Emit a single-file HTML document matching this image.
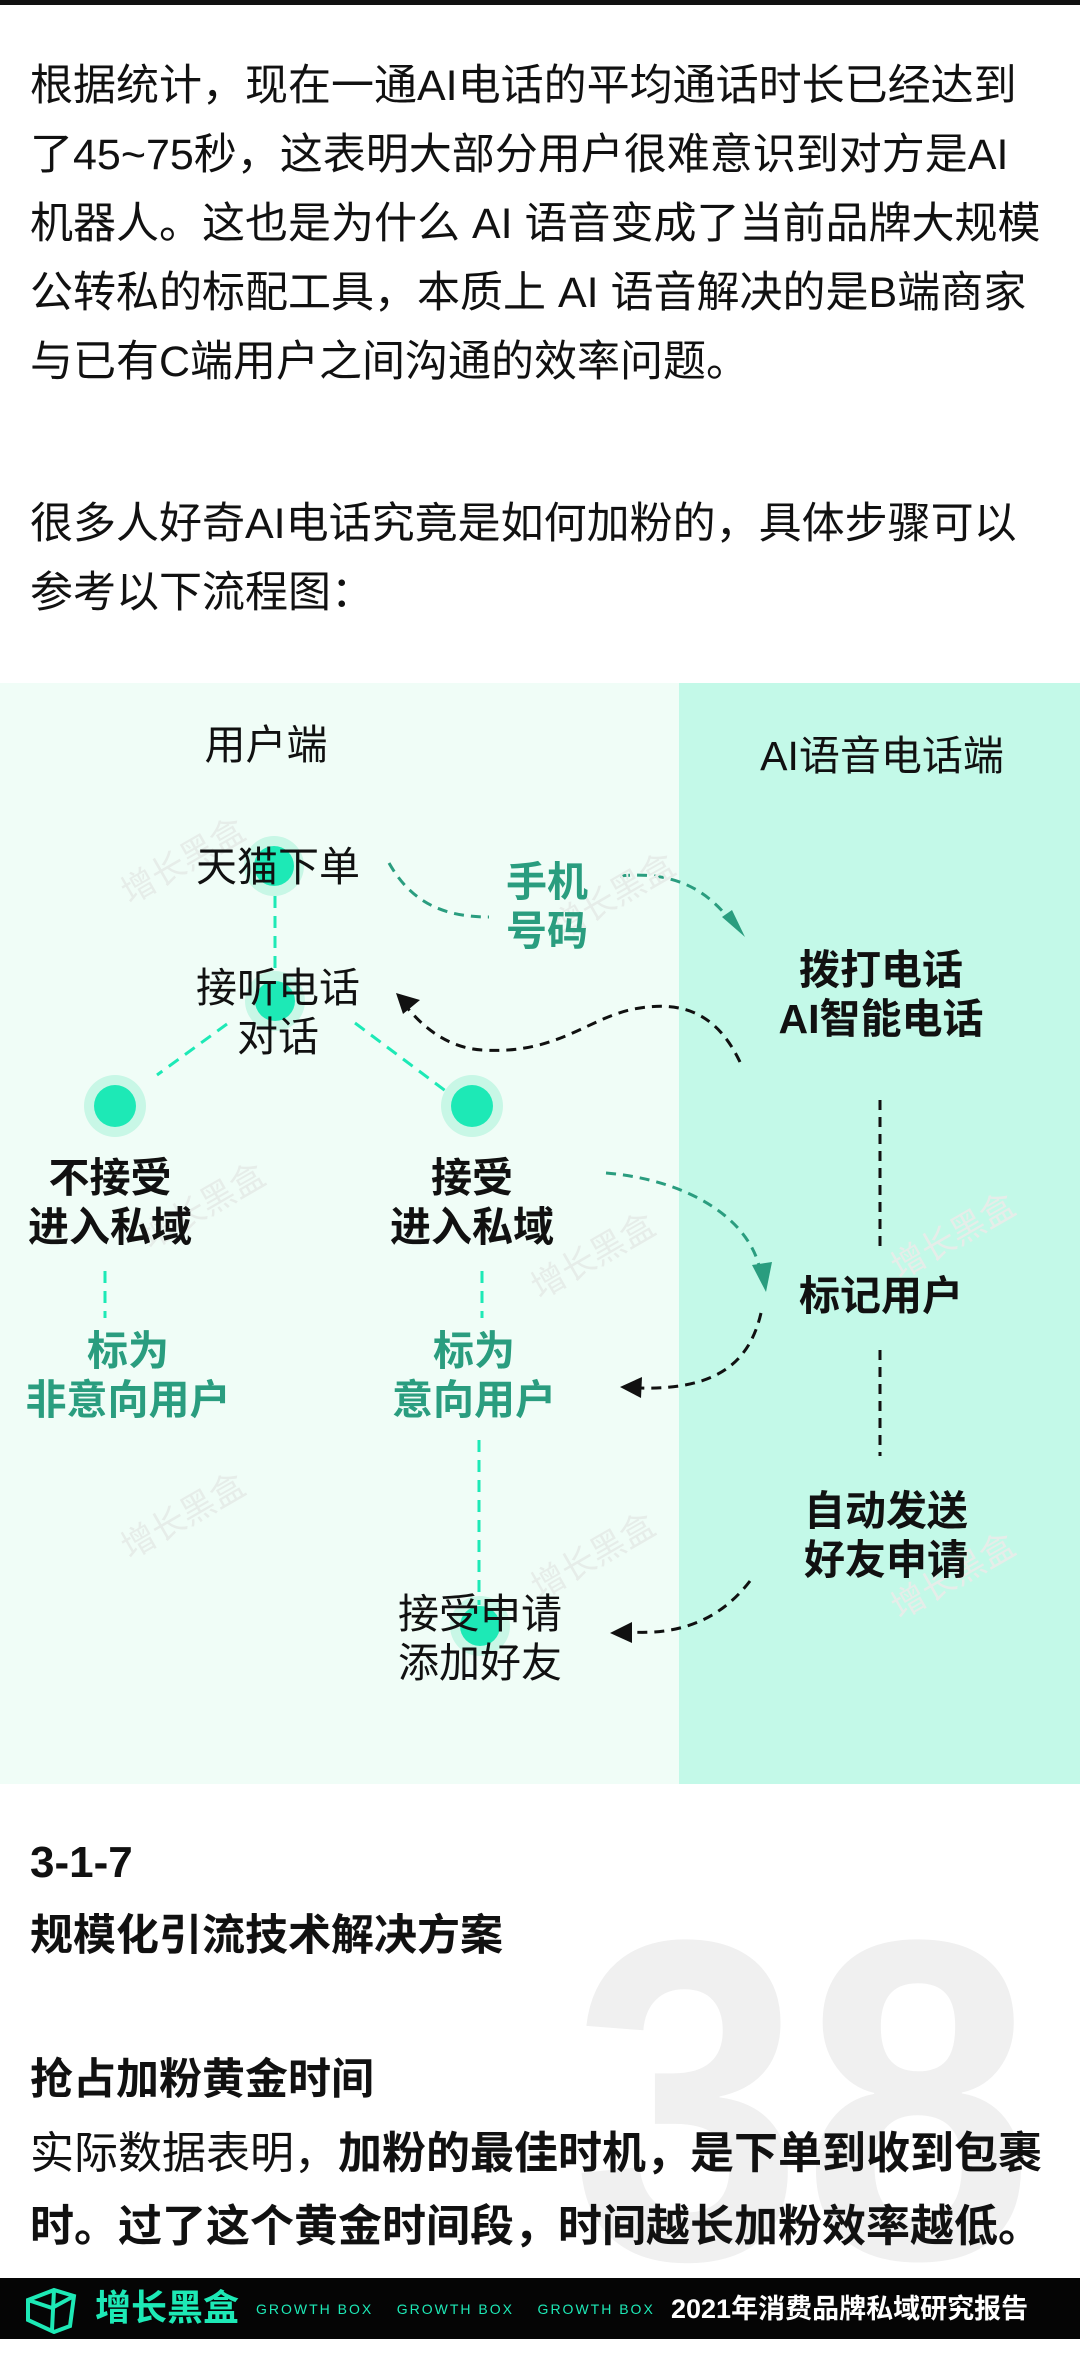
<!DOCTYPE html>
<html><head><meta charset="utf-8"><style>
*{margin:0;padding:0;box-sizing:border-box}
body{width:1080px;height:2339px;position:relative;background:#fff;overflow:hidden;font-family:"Liberation Sans","Noto Sans CJK SC",sans-serif;color:#111}
.t{position:absolute;white-space:nowrap}
.p{font-size:43px;line-height:69px;left:30px}
.c{transform:translateX(-50%);text-align:center;font-size:41px;line-height:49px}
.b{font-weight:bold}
.g{color:#2a9d7f}
</style></head><body>
<div style="position:absolute;left:0;top:0;width:1080px;height:5px;background:#111"></div>
<div class="t p" style="top:52px">根据统计，现在一通AI电话的平均通话时长已经达到<br>了45~75秒，这表明大部分用户很难意识到对方是AI<br>机器人。这也是为什么 AI 语音变成了当前品牌大规模<br>公转私的标配工具，本质上 AI 语音解决的是B端商家<br>与已有C端用户之间沟通的效率问题。</div>
<div class="t p" style="top:490px">很多人好奇AI电话究竟是如何加粉的，具体步骤可以<br>参考以下流程图：</div>

<div style="position:absolute;left:0;top:683px;width:679px;height:1101px;background:#f0fdf7"></div>
<div style="position:absolute;left:679px;top:683px;width:401px;height:1101px;background:#c3f9e8"></div>

<svg style="position:absolute;left:0;top:0" width="1080" height="2339">
<g fill="#c8f7e6"><circle cx="274" cy="866" r="30"/><circle cx="275" cy="1001" r="30"/><circle cx="115" cy="1106" r="31"/><circle cx="472" cy="1106" r="31"/><circle cx="480" cy="1626" r="30"/></g>
<g fill="#1de9b6"><circle cx="274" cy="866" r="20"/><circle cx="275" cy="1001" r="20"/><circle cx="115" cy="1106" r="21"/><circle cx="472" cy="1106" r="21"/><circle cx="480" cy="1626" r="20"/></g>
<g stroke="#1de9b6" stroke-width="3" stroke-dasharray="12,8" fill="none">
<line x1="275" y1="896" x2="275" y2="975"/>
<line x1="227" y1="1024" x2="157" y2="1075"/>
<line x1="355" y1="1023" x2="451" y2="1095"/>
<line x1="105" y1="1271" x2="105" y2="1318"/>
<line x1="482" y1="1271" x2="482" y2="1318"/>
<line x1="479" y1="1440" x2="479" y2="1605"/>
</g>
<g stroke="#2a9d7f" stroke-width="3" stroke-dasharray="10,7" fill="none">
<path d="M389,863 C410,900 440,917 489,917"/>
<path d="M620,876 C680,870 710,895 730,920"/>
<path d="M606,1173 C690,1180 750,1220 760,1270"/>
</g>
<path d="M722,917 L745,937 L732,910 z" fill="#2a9d7f"/>
<path d="M752,1265 L766,1292 L772,1262 z" fill="#2a9d7f"/>
<g stroke="#111" stroke-width="3" stroke-dasharray="10,7" fill="none">
<path d="M740,1062 C720,1020 690,1000 640,1008 C590,1015 560,1055 482,1050 C450,1048 425,1030 405,1005"/>
<line x1="880" y1="1100" x2="880" y2="1252"/>
<path d="M761,1313 C750,1360 720,1390 640,1388"/>
<line x1="880" y1="1350" x2="880" y2="1456"/>
<path d="M750,1581 C720,1620 680,1635 630,1632"/>
</g>
<path d="M396,993 L420,1000 L403,1014 z" fill="#111"/>
<path d="M620,1387 L642,1377 L641,1398 z" fill="#111"/>
<path d="M610,1633 L632,1622 L632,1643 z" fill="#111"/>
<g fill="#e6ede9" font-size="34" font-family="Liberation Sans,Noto Sans CJK SC,sans-serif">
<text x="130" y="905" transform="rotate(-30 130 905)">增长黑盒</text>
<text x="560" y="940" transform="rotate(-30 560 940)">增长黑盒</text>
<text x="150" y="1250" transform="rotate(-30 150 1250)">增长黑盒</text>
<text x="540" y="1300" transform="rotate(-30 540 1300)">增长黑盒</text>
<text x="900" y="1280" transform="rotate(-30 900 1280)">增长黑盒</text>
<text x="130" y="1560" transform="rotate(-30 130 1560)">增长黑盒</text>
<text x="540" y="1600" transform="rotate(-30 540 1600)">增长黑盒</text>
<text x="900" y="1620" transform="rotate(-30 900 1620)">增长黑盒</text>
</g>
</svg>

<div class="t c" style="left:266px;top:721px">用户端</div>
<div class="t c" style="left:882px;top:732px">AI语音电话端</div>
<div class="t c" style="left:278px;top:843px">天猫下单</div>
<div class="t c" style="left:278px;top:964px">接听电话<br>对话</div>
<div class="t c g b" style="left:547px;top:858px">手机<br>号码</div>
<div class="t c b" style="left:881px;top:946px">拨打电话<br>AI智能电话</div>
<div class="t c b" style="left:110px;top:1154px">不接受<br>进入私域</div>
<div class="t c b" style="left:472px;top:1154px">接受<br>进入私域</div>
<div class="t c g b" style="left:128px;top:1327px">标为<br>非意向用户</div>
<div class="t c g b" style="left:474px;top:1327px">标为<br>意向用户</div>
<div class="t c b" style="left:881px;top:1272px">标记用户</div>
<div class="t c b" style="left:886px;top:1487px">自动发送<br>好友申请</div>
<div class="t c" style="left:480px;top:1590px">接受申请<br>添加好友</div>

<div class="t b" style="left:572px;top:1872px;font-size:415px;line-height:415px;color:#f0f0f0;transform:scaleY(1.1);transform-origin:top left">38</div>
<div class="t b" style="left:30px;top:1838px;font-size:44px;line-height:50px">3-1-7</div>
<div class="t b" style="left:30px;top:1911px;font-size:43px;line-height:50px">规模化引流技术解决方案</div>
<div class="t b" style="left:30px;top:2055px;font-size:43px;line-height:50px">抢占加粉黄金时间</div>
<div class="t" style="left:30px;top:2117px;font-size:44px;line-height:73px">实际数据表明，<b>加粉的最佳时机，是下单到收到包裹<br>时。过了这个黄金时间段，时间越长加粉效率越低。</b></div>

<div style="position:absolute;left:0;top:2278px;width:1080px;height:61px;background:#050505"></div>
<svg style="position:absolute;left:24px;top:2286px" width="54" height="48"><path d="M4,14 L30,4 L50,10 L46,40 L30,46 L4,34 z M30,4 L28,44 M4,14 L28,22 L50,10" stroke="#1de9b6" stroke-width="4" fill="none"/></svg>
<div class="t b" style="left:95px;top:2286px;font-size:36px;line-height:44px;color:#1de9b6">增长黑盒</div>
<div class="t" style="left:256px;top:2299px;font-size:14px;line-height:20px;color:#1de9b6;letter-spacing:2px">GROWTH BOX&nbsp;&nbsp;&nbsp;&nbsp;GROWTH BOX&nbsp;&nbsp;&nbsp;&nbsp;GROWTH BOX</div>
<div class="t b" style="left:671px;top:2291px;font-size:27px;line-height:36px;color:#fff">2021年消费品牌私域研究报告</div>
</body></html>
